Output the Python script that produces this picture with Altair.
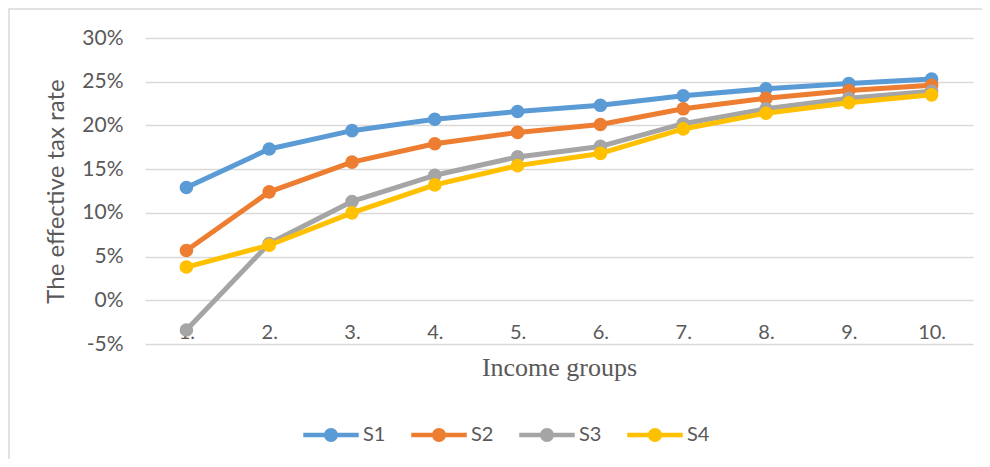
import altair as alt
import pandas as pd

groups = ["1.", "2.", "3.", "4.", "5.", "6.", "7.", "8.", "9.", "10."]
series_names = ["S1", "S2", "S3", "S4"]
s1 = [12.9, 17.3, 19.4, 20.7, 21.6, 22.3, 23.4, 24.2, 24.8, 25.3]
s2 = [5.7, 12.4, 15.8, 17.9, 19.2, 20.1, 21.9, 23.1, 24.0, 24.6]
s3 = [-3.4, 6.5, 11.3, 14.3, 16.4, 17.6, 20.2, 21.9, 23.1, 23.9]
s4 = [3.8, 6.3, 10.0, 13.2, 15.4, 16.8, 19.6, 21.4, 22.6, 23.5]
colors = ["#5B9BD5", "#ED7D31", "#A5A5A5", "#FFC000"]

rows = []
for name, vals in zip(series_names, [s1, s2, s3, s4]):
    for g, v in zip(groups, vals):
        rows.append({"group": g, "series": name, "rate": v / 100.0})
df = pd.DataFrame(rows)

W, H = 828, 306
TXT = "#595959"

legend_symbol = ("M-1,-0.08 L1,-0.08 L1,0.08 L-1,0.08 Z "
                 "M-0.25,0 A0.25,0.25 0 1,1 0.25,0 A0.25,0.25 0 1,1 -0.25,0 Z")

color_enc = alt.Color(
    "series:N",
    scale=alt.Scale(domain=series_names, range=colors),
    legend=alt.Legend(
        title=None, orient="none", direction="horizontal",
        legendX=158, legendY=369,
        symbolType=legend_symbol, symbolSize=3080, symbolStrokeWidth=0,
        labelFont="Lato", labelFontSize=20, labelColor=TXT,
        labelOffset=4, columnPadding=25, padding=0,
    ),
)

x_enc = alt.X(
    "group:N", sort=groups,
    scale=alt.Scale(type="point", padding=0.5),
    axis=alt.Axis(
        title="Income groups", labelAngle=0, domain=False, ticks=False, grid=False,
        offset=-30, labelPadding=8, labelFont="Lato", labelFontSize=20,
        labelColor=TXT, titleFont="Liberation Serif", titleFontSize=26,
        titleFontWeight="normal", titleColor=TXT, titlePadding=12,
    ),
)
y_enc = alt.Y(
    "rate:Q",
    scale=alt.Scale(domain=[-0.05, 0.30], nice=False, zero=False),
    axis=alt.Axis(
        title="The effective tax rate", values=[-0.05, 0, 0.05, 0.10, 0.15, 0.20, 0.25, 0.30],
        format=".0%", labelExpr="replace(datum.label, '\u2212', '-')",
        domain=False, ticks=False, grid=True, gridColor="#D9D9D9", gridWidth=1.5,
        labelPadding=22, labelFont="Lato", labelFontSize=21, labelColor=TXT,
        titleFont="Lato", titleFontSize=24, titleFontWeight="normal", titleColor=TXT,
        titlePadding=13,
    ),
)

border = alt.Chart(pd.DataFrame({"a": [0]})).mark_rect(
    fill=None, stroke="#D9D9D9", strokeWidth=1.5
).encode(
    x=alt.value(-136), x2=alt.value(W + 60),
    y=alt.value(-29), y2=alt.value(H + 160),
)

layers = [border]
for name in series_names:
    base = alt.Chart(df).transform_filter(alt.datum.series == name).encode(
        x=x_enc, y=y_enc, color=color_enc
    )
    layers.append(base.mark_line(strokeWidth=5, strokeCap="round", strokeJoin="round"))
    layers.append(base.mark_point(filled=True, size=185, opacity=1))

chart = alt.layer(*layers).properties(
    width=W, height=H,
    autosize=alt.AutoSizeParams(type="none"),
    padding={"left": 137, "top": 30, "right": 9, "bottom": 115},
).configure(background="white").configure_view(stroke=None)

chart.save("out.html", embed_options={"renderer": "svg", "actions": False})
